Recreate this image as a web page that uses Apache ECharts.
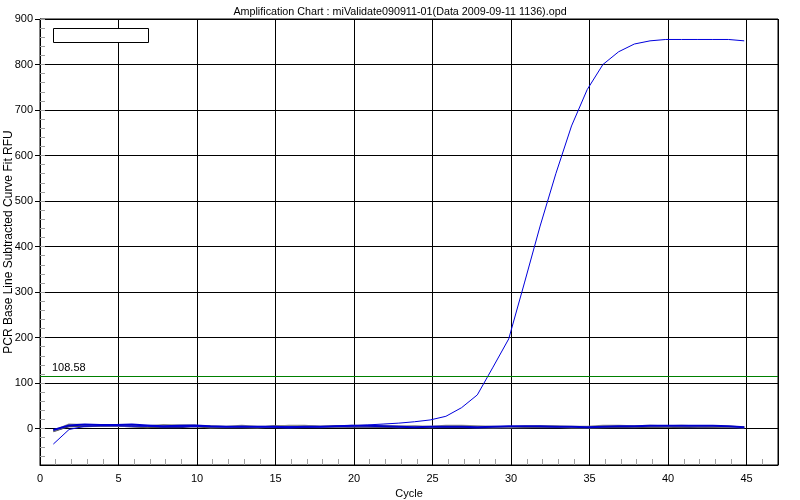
<!DOCTYPE html>
<html>
<head>
<meta charset="utf-8">
<script src="https://cdn.jsdelivr.net/npm/echarts@6/dist/echarts.min.js"></script>
<style>html,body{margin:0;padding:0;background:#fff}#c{width:800px;height:500px}</style>
</head>
<body>
<div id="c"></div>
<script>
const titleText = 'Amplification Chart : miValidate090911-01(Data 2009-09-11 1136).opd';
const xName = 'Cycle';
const yName = 'PCR Base Line Subtracted Curve Fit RFU';
const thresholdValue = 114.5;
const thresholdLabel = '108.58';
const yTickValues = [0, 100, 200, 300, 400, 500, 600, 700, 800, 900];
const xTickValues = [0, 5, 10, 15, 20, 25, 30, 35, 40, 45];
const xMinorTickValues = [1, 2, 3, 4, 6, 7, 8, 9, 11, 12, 13, 14, 16, 17, 18, 19,
  21, 22, 23, 24, 26, 27, 28, 29, 31, 32, 33, 34, 36, 37, 38, 39, 41, 42, 43, 44, 46];
const cycles = [0.85, 1.85, 2.85, 3.85, 4.85, 5.85, 6.85, 7.85, 8.85, 9.85,
  10.85, 11.85, 12.85, 13.85, 14.85, 15.85, 16.85, 17.85, 18.85, 19.85,
  20.85, 21.85, 22.85, 23.85, 24.85, 25.85, 26.85, 27.85, 28.85, 29.85,
  30.85, 31.85, 32.85, 33.85, 34.85, 35.85, 36.85, 37.85, 38.85, 39.85,
  40.85, 41.85, 42.85, 43.85, 44.85];
const sampleMain = [-34, -2, 5, 6, 6, 5, 5, 4, 5, 5, 4, 4, 5, 4, 4, 4, 4, 4, 5, 6,
  8, 10, 12, 15, 19, 27, 46, 74, 135, 197, 320, 445, 560, 665, 745, 800, 828, 845, 852, 855,
  855, 855, 855, 855, 852];
const baseBlue = [-3, 7, 9, 8, 8, 9, 7, 5, 6, 7, 5, 4, 4, 4, 4, 3, 4, 4, 5, 6,
  6, 5, 4, 3, 4, 4, 4, 3, 4, 5, 5, 5, 4, 4, 3, 4, 5, 5, 6, 6, 6, 6, 6, 5, 3];
const baseGray = [-5, 9, 8, 7, 6, 6, 5, 8, 7, 6, 5, 4, 6, 4, 4, 6, 6, 4, 4, 6,
  6, 6, 5, 5, 4, 6, 6, 5, 4, 3, 5, 5, 5, 4, 4, 6, 6, 5, 6, 5, 6, 5, 5, 4, 3];
const baseDark = [-6, 6, 6, 6, 6, 5, 3, 5, 6, 6, 2, 3, 3, 2, 5, 5, 5, 4, 5, 5,
  5, 4, 3, 3, 3, 4, 4, 3, 2, 3, 3, 4, 4, 2, 2, 3, 4, 4, 4, 4, 4, 5, 4, 4, 3];
const baseNavy = [-4, 5, 5, 6, 6, 5, 4, 3, 3, 5, 4, 3, 3, 3, 3, 2, 3, 3, 4, 4,
  4, 4, 3, 4, 3, 3, 3, 2, 2, 3, 3, 3, 3, 3, 2, 3, 3, 3, 4, 4, 3, 3, 3, 3, 2];

function pairs(ys) { return cycles.map((x, i) => [x, ys[i]]); }
const FONT = '"Liberation Sans", Arial, sans-serif';

const chart = echarts.init(document.getElementById('c'), null, {renderer: 'canvas'});
chart.setOption({
  animation: false,
  backgroundColor: '#fff',
  title: {
    text: titleText, left: 'center', top: 2,
    textStyle: {fontFamily: FONT, fontSize: 10.75, fontWeight: 'normal', color: '#000'}
  },
  grid: {left: 40, right: 22, top: 19, bottom: 35, containLabel: false, outerBoundsMode: 'none',
    show: true, borderColor: '#000', borderWidth: 1, backgroundColor: '#fff'},
  graphic: [{
    type: 'rect', left: 53, top: 28, shape: {width: 95, height: 14},
    style: {fill: '#fff', stroke: '#000', lineWidth: 1}, z: 100
  }],
  xAxis: [{
    type: 'value', min: 0, max: 47, interval: 1,
    name: xName, nameLocation: 'middle', nameGap: 23, nameMoveOverlap: false,
    nameTextStyle: {fontFamily: FONT, fontSize: 11, color: '#000'},
    axisLine: {show: true, onZero: false, lineStyle: {color: '#000', width: 1}},
    axisTick: {show: true, inside: true, length: 6, customValues: xMinorTickValues,
      lineStyle: {color: '#a0a0a0', width: 1}},
    axisLabel: {customValues: xTickValues, fontFamily: FONT, fontSize: 11, color: '#000', margin: 8},
    splitLine: {show: false},
    z: 5
  }, {
    type: 'value', min: 0, max: 47, interval: 5, position: 'bottom', offset: 0,
    axisLine: {show: false, onZero: false},
    axisTick: {show: false},
    axisLabel: {show: false},
    splitLine: {show: true, lineStyle: {color: '#000', width: 1}}
  }],
  yAxis: [{
    type: 'value', min: -80, max: 900,
    name: yName, nameLocation: 'middle', nameGap: 25, nameMoveOverlap: false,
    nameTextStyle: {fontFamily: FONT, fontSize: 12, color: '#000'},
    axisLine: {show: true, onZero: false, lineStyle: {color: '#000', width: 1}},
    axisTick: {show: true, inside: false, length: 5, customValues: yTickValues, lineStyle: {color: '#000', width: 1}},
    axisLabel: {customValues: yTickValues, fontFamily: FONT, fontSize: 11, color: '#000', margin: 7},
    splitLine: {show: true, lineStyle: {color: '#000', width: 1}}
  }, {
    type: 'value', min: -80, max: 900, interval: 20, position: 'left', offset: 0,
    axisLine: {show: false, onZero: false},
    axisTick: {show: true, inside: true, length: 5, lineStyle: {color: '#a0a0a0', width: 1}},
    axisLabel: {show: false},
    splitLine: {show: false}
  }],
  series: [
    {type: 'line', data: pairs(baseNavy), showSymbol: false, lineStyle: {color: '#202080', width: 2}},
    {type: 'line', data: pairs(baseDark), showSymbol: false, lineStyle: {color: '#505050', width: 2}},
    {type: 'line', data: pairs(baseGray), showSymbol: false, lineStyle: {color: '#8a8a8a', width: 2}},
    {type: 'line', data: pairs(baseBlue), showSymbol: false, lineStyle: {color: '#0000cc', width: 2}},
    {type: 'line', data: pairs(sampleMain), showSymbol: false, lineStyle: {color: '#0000dd', width: 1},
      markLine: {
        silent: true, symbol: 'none',
        lineStyle: {color: '#008000', width: 1, type: 'solid'},
        label: {show: true, position: 'insideStartTop', formatter: thresholdLabel,
          fontFamily: FONT, fontSize: 11, color: '#000', distance: 3, padding: [0, 0, 0, 9]},
        data: [{yAxis: thresholdValue}]
      }}
  ]
});
</script>
</body>
</html>
